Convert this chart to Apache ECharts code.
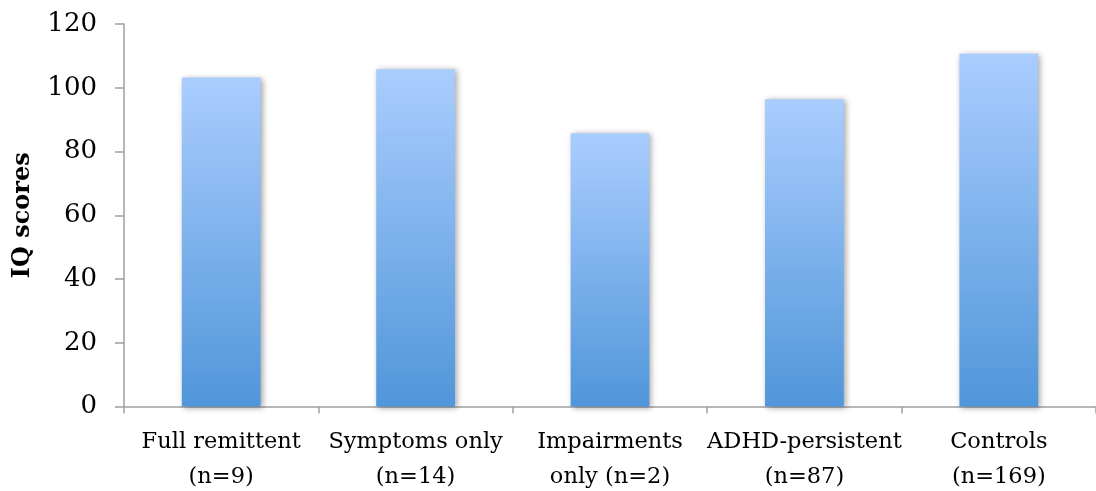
<!DOCTYPE html>
<html>
<head>
<meta charset="utf-8">
<script src="https://cdn.jsdelivr.net/npm/echarts@6/dist/echarts.min.js"></script>
<style>html,body{margin:0;padding:0;background:#fff}#c{width:1096px;height:491px}</style>
</head>
<body>
<div id="c"></div>
<script>
const categories = ['Full remittent\n(n=9)', 'Symptoms only\n(n=14)', 'Impairments\nonly (n=2)', 'ADHD-persistent\n(n=87)', 'Controls\n(n=169)'];
const iqScores = [103.2, 105.8, 85.7, 96.4, 110.7];
const yTicks = [0, 20, 40, 60, 80, 100, 120];

const chart = echarts.init(document.getElementById('c'), null, {renderer: 'canvas'});
const font = '"DejaVu Serif", "Liberation Serif", serif';
chart.setOption({
  animation: false,
  grid: {left: 124, right: 0, top: 24, bottom: 84.5, containLabel: false, outerBoundsMode: 'none'},
  xAxis: {
    type: 'category',
    data: categories,
    axisLine: {lineStyle: {color: '#a0a0a0', width: 1.5}},
    axisTick: {show: true, length: 7, alignWithLabel: false, lineStyle: {color: '#a0a0a0', width: 1.5}},
    axisLabel: {color: '#000', fontFamily: font, fontSize: 22.5, lineHeight: 35, margin: 18, interval: 0}
  },
  yAxis: {
    type: 'value',
    min: yTicks[0],
    max: yTicks[yTicks.length - 1],
    interval: 20,
    name: 'IQ scores',
    nameLocation: 'middle',
    nameGap: 89,
    nameTextStyle: {color: '#000', fontFamily: font, fontSize: 24, fontWeight: 'bold'},
    axisLine: {show: true, lineStyle: {color: '#a0a0a0', width: 1.5}},
    axisTick: {show: true, length: 9, lineStyle: {color: '#a0a0a0', width: 1.5}},
    splitLine: {show: false},
    axisLabel: {color: '#000', fontFamily: font, fontSize: 26, margin: 27}
  },
  series: [{
    type: 'bar',
    data: iqScores,
    barWidth: '40.5%',
    itemStyle: {
      color: new echarts.graphic.LinearGradient(0, 0, 0, 1, [
        {offset: 0, color: '#aacdfe'},
        {offset: 1, color: '#5096da'}
      ]),
      shadowColor: 'rgba(0,0,0,0.35)',
      shadowBlur: 6,
      shadowOffsetX: 2,
      shadowOffsetY: 1
    }
  }]
});
</script>
</body>
</html>
